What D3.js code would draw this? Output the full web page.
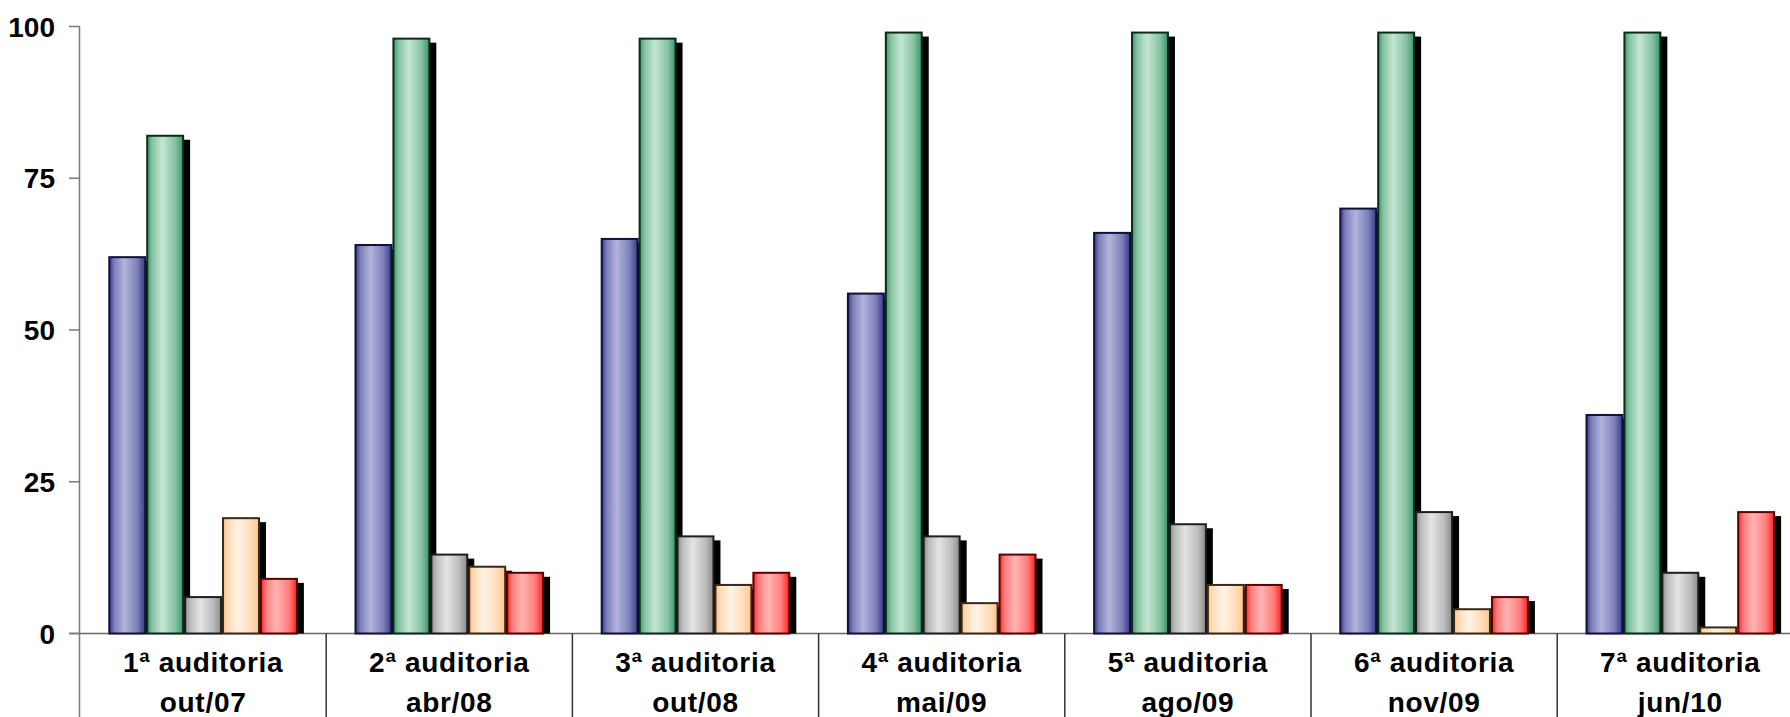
<!DOCTYPE html>
<html>
<head>
<meta charset="utf-8">
<script src="https://cdn.jsdelivr.net/npm/d3@7"></script>
<style>
  body { margin: 0; background: #fff; }
  svg { display: block; font-family: "Liberation Sans", Arial, sans-serif; }
</style>
</head>
<body>
<div class="chart"></div>
<script>
// data
var auditorias = ["1ª auditoria", "2ª auditoria", "3ª auditoria", "4ª auditoria", "5ª auditoria", "6ª auditoria", "7ª auditoria"];
var datas = ["out/07", "abr/08", "out/08", "mai/09", "ago/09", "nov/09", "jun/10"];
var series = ["serie1", "serie2", "serie3", "serie4", "serie5"];
var serie1 = [62, 64, 65, 56, 66, 70, 36];
var serie2 = [82, 98, 98, 99, 99, 99, 99];
var serie3 = [6, 13, 16, 16, 18, 20, 10];
var serie4 = [19, 11, 8, 5, 8, 4, 1];
var serie5 = [9, 10, 10, 13, 8, 6, 20];
var yTicks = [0, 25, 50, 75, 100];

var values = [serie1, serie2, serie3, serie4, serie5];

var width = 1790,
    height = 717;

// edge / light / outline colour for each series
var look = [
  { edge: "#353a88", mid: "#7c80b8", light: "#b3b3dc", line: "#10103a" },
  { edge: "#3a9868", mid: "#86c2a2", light: "#c4e6d4", line: "#0c2a18" },
  { edge: "#8c8c8c", mid: "#bcbcbc", light: "#e4e4e4", line: "#1e1e1e" },
  { edge: "#ffc68c", mid: "#ffdcb8", light: "#fff3e6", line: "#3a2818" },
  { edge: "#ff2222", mid: "#ff7c7c", light: "#ffb4b4", line: "#5a0000" }
];

var svg = d3.select(".chart").append("svg")
    .attr("width", width)
    .attr("height", height);

var defs = svg.append("defs");
look.forEach(function (c, i) {
  var g = defs.append("linearGradient")
      .attr("id", "grad" + i)
      .attr("x1", "0%").attr("x2", "100%")
      .attr("y1", "0%").attr("y2", "0%");
  [[0, c.edge], [0.14, c.mid], [0.42, c.light], [0.78, c.mid], [1, c.edge]].forEach(function (s) {
    g.append("stop").attr("offset", s[0]).attr("stop-color", s[1]);
  });
});

var x0 = d3.scaleBand()
    .domain(auditorias)
    .range([80, 80 + 7 * 246.2]);

var x1 = d3.scaleBand()
    .domain(series)
    .range([28.3, x0.bandwidth() - 28.3]);

var y = d3.scaleLinear()
    .domain([0, 100])
    .range([633.5, 26.5]);

// axis lines
svg.append("line")
    .attr("x1", 79.5).attr("x2", 79.5)
    .attr("y1", y(100)).attr("y2", height)
    .attr("stroke", "#7a7a7a").attr("stroke-width", 1.5);

svg.append("line")
    .attr("x1", 69).attr("x2", width)
    .attr("y1", y(0)).attr("y2", y(0))
    .attr("stroke", "#6a6a6a").attr("stroke-width", 1.5);

svg.selectAll(".tick")
    .data(yTicks)
    .enter().append("line")
    .attr("class", "tick")
    .attr("x1", 69).attr("x2", 80)
    .attr("y1", function (d) { return y(d); })
    .attr("y2", function (d) { return y(d); })
    .attr("stroke", "#7a7a7a").attr("stroke-width", 1.5);

svg.selectAll(".ylab")
    .data(yTicks)
    .enter().append("text")
    .attr("class", "ylab")
    .attr("x", 55)
    .attr("y", function (d) { return y(d); })
    .attr("dy", "0.36em")
    .attr("text-anchor", "end")
    .attr("font-size", 28)
    .attr("font-weight", "bold")
    .text(function (d) { return d; });

// category separators under the axis
svg.selectAll(".sep")
    .data(auditorias.slice(1))
    .enter().append("line")
    .attr("class", "sep")
    .attr("x1", function (d) { return x0(d); })
    .attr("x2", function (d) { return x0(d); })
    .attr("y1", y(0)).attr("y2", height)
    .attr("stroke", "#333").attr("stroke-width", 1.5);

var groups = svg.selectAll(".grp")
    .data(auditorias)
    .enter().append("g")
    .attr("class", "grp")
    .attr("transform", function (d) { return "translate(" + x0(d) + ",0)"; });

var cells = function (d, gi) {
  return series.map(function (s, si) {
    return { key: s, si: si, v: values[si][gi] };
  });
};

// shadows first
groups.each(function (d, gi) {
  d3.select(this).selectAll(".shadow")
      .data(cells(d, gi))
      .enter().append("rect")
      .attr("class", "shadow")
      .attr("x", function (c) { return x1(c.key) + 6; })
      .attr("y", function (c) { return Math.min(y(c.v) + 4, y(0)); })
      .attr("width", x1.bandwidth())
      .attr("height", function (c) { return Math.max(y(0) - y(c.v) - 4, 0); })
      .attr("fill", "#000");
});

groups.each(function (d, gi) {
  d3.select(this).selectAll(".bar")
      .data(cells(d, gi))
      .enter().append("rect")
      .attr("class", "bar")
      .attr("x", function (c) { return x1(c.key) + 1; })
      .attr("y", function (c) { return y(c.v); })
      .attr("width", x1.bandwidth() - 2)
      .attr("height", function (c) { return y(0) - y(c.v); })
      .attr("fill", function (c) { return "url(#grad" + c.si + ")"; })
      .attr("stroke", function (c) { return look[c.si].line; })
      .attr("stroke-width", 2);
});

// category labels
groups.append("text")
    .attr("x", x0.bandwidth() / 2)
    .attr("y", 672)
    .attr("text-anchor", "middle")
    .attr("font-size", 28)
    .attr("font-weight", "bold")
    .attr("letter-spacing", 0.7)
    .text(function (d) { return d; });

groups.append("text")
    .attr("x", x0.bandwidth() / 2)
    .attr("y", 711.5)
    .attr("text-anchor", "middle")
    .attr("font-size", 28)
    .attr("font-weight", "bold")
    .attr("letter-spacing", 0.7)
    .text(function (d, i) { return datas[i]; });
</script>
</body>
</html>
